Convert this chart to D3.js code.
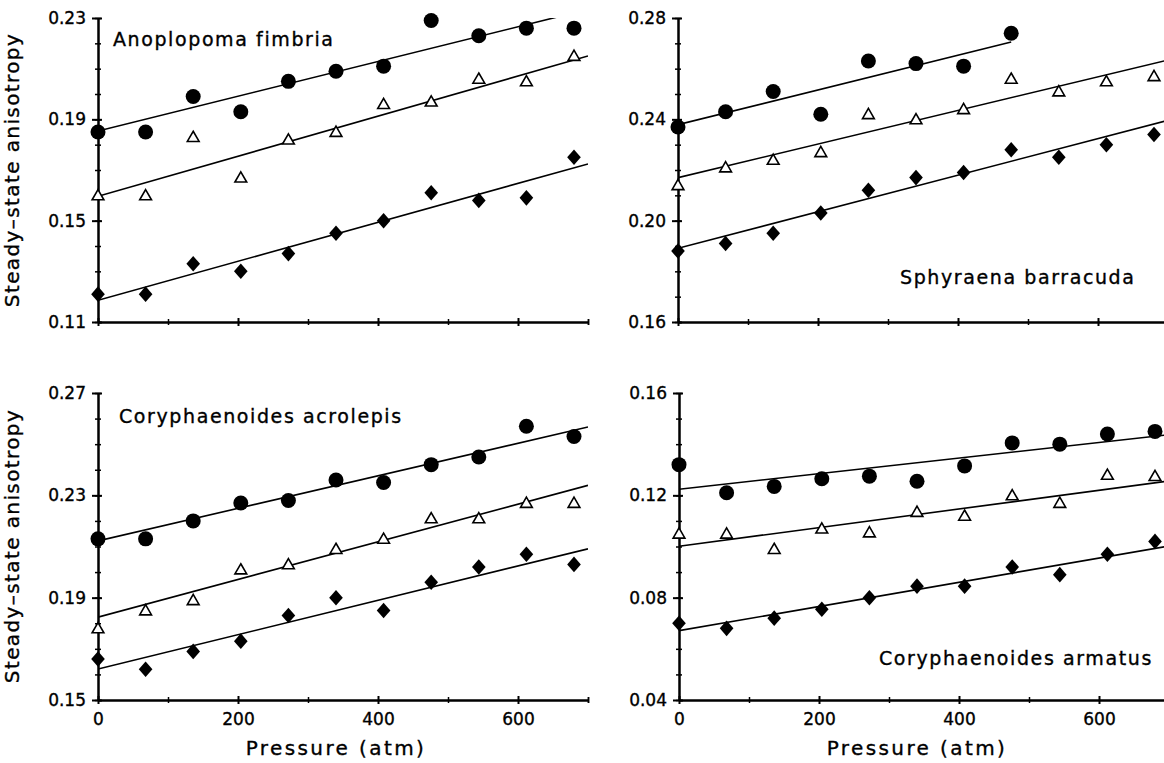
<!DOCTYPE html>
<html lang="en">

<head>
    <meta charset="UTF-8">
    <title>Steady-state anisotropy vs pressure</title>
    <style>
        body {
            margin: 0;
            background: #fff;
        }

        text {
            font-family: 'DejaVu Sans', sans-serif;
            fill: #000;
            stroke: #000;
            stroke-width: 0.35px;
        }

        .axis path,
        .axis line {
            stroke: #000;
            stroke-width: 2px;
        }

        .axis text {
            font-size: 17px;
        }

        .minor line {
            stroke-width: 1.5px;
        }

        .fit {
            fill: none;
            stroke: #000;
            stroke-width: 1.6px;
        }

        .circle {
            fill: #000;
        }

        .triangle {
            fill: #fff;
            stroke: #000;
            stroke-width: 1.6px;
        }

        .diamond {
            fill: #000;
        }

        .species {
            font-size: 19px;
            letter-spacing: 1.6px;
        }

        .axis-title {
            font-size: 20px;
            letter-spacing: 1.4px;
            text-anchor: middle;
        }

        .x-title {
            letter-spacing: 2.4px;
        }
    </style>
</head>

<body>
    <script src="https://d3js.org/d3.v7.min.js"></script>
    <script>
        // pressures (atm) shared by every series
        const pressure = [0, 68, 136, 204, 272, 340, 408, 476, 544, 612, 680];
        const xTickValues = [0, 200, 400, 600];
        const xDomain = [0, 700];

        // Anoplopoma fimbria
        const anoplopomaTicks = [0.11, 0.15, 0.19, 0.23];
        const anoplopomaCircles = [0.185, 0.185, 0.199, 0.193, 0.205, 0.209, 0.211, 0.229, 0.223, 0.226, 0.226];
        const anoplopomaTriangles = [0.160, 0.160, 0.183, 0.167, 0.182, 0.185, 0.196, 0.197, 0.206, 0.205, 0.215];
        const anoplopomaDiamonds = [0.121, 0.121, 0.133, 0.130, 0.137, 0.145, 0.150, 0.161, 0.158, 0.159, 0.175];
        const anoplopomaFits = [
            [[0, 0.1854], [700, 0.2334]],
            [[0, 0.1596], [700, 0.2150]],
            [[0, 0.1186], [700, 0.1724]]
        ];

        // Sphyraena barracuda
        const sphyraenaTicks = [0.16, 0.20, 0.24, 0.28];
        const sphyraenaCircles = [0.237, 0.243, 0.251, 0.242, 0.263, 0.262, 0.261, 0.274];
        const sphyraenaTriangles = [0.214, 0.221, 0.224, 0.227, 0.242, 0.240, 0.244, 0.256, 0.251, 0.255, 0.257];
        const sphyraenaDiamonds = [0.188, 0.191, 0.195, 0.203, 0.212, 0.217, 0.219, 0.228, 0.225, 0.230, 0.234];
        const sphyraenaFits = [
            [[0, 0.2379], [476, 0.2705]],
            [[0, 0.2170], [700, 0.2634]],
            [[0, 0.1891], [700, 0.2396]]
        ];

        // Coryphaenoides acrolepis
        const acrolepisTicks = [0.15, 0.19, 0.23, 0.27];
        const acrolepisCircles = [0.213, 0.213, 0.220, 0.227, 0.228, 0.236, 0.235, 0.242, 0.245, 0.257, 0.253];
        const acrolepisTriangles = [0.178, 0.185, 0.189, 0.201, 0.203, 0.209, 0.213, 0.221, 0.221, 0.227, 0.227];
        const acrolepisDiamonds = [0.166, 0.162, 0.169, 0.173, 0.183, 0.190, 0.185, 0.196, 0.202, 0.207, 0.203];
        const acrolepisFits = [
            [[0, 0.2122], [700, 0.2567]],
            [[0, 0.1824], [700, 0.2339]],
            [[0, 0.1621], [700, 0.2091]]
        ];

        // Coryphaenoides armatus
        const armatusTicks = [0.04, 0.08, 0.12, 0.16];
        const armatusCircles = [0.132, 0.121, 0.1235, 0.1265, 0.1275, 0.1255, 0.1315, 0.1405, 0.140, 0.144, 0.145];
        const armatusTriangles = [0.105, 0.105, 0.099, 0.107, 0.1055, 0.1135, 0.112, 0.120, 0.117, 0.128, 0.1275];
        const armatusDiamonds = [0.070, 0.068, 0.072, 0.0755, 0.080, 0.0845, 0.0845, 0.092, 0.089, 0.097, 0.102];
        const armatusFits = [
            [[0, 0.1224], [700, 0.1437]],
            [[0, 0.1001], [700, 0.1256]],
            [[0, 0.0671], [700, 0.1002]]
        ];

        const width = 1164;
        const height = 763;
        const plotWidth = 490;

        const panels = [
            { name: 'Anoplopoma fimbria', left: 98, top: 18, bottom: 322, ticks: anoplopomaTicks,
              circles: anoplopomaCircles, triangles: anoplopomaTriangles, diamonds: anoplopomaDiamonds,
              fits: anoplopomaFits, xLabels: false, labelX: 15, labelY: 28 },
            { name: 'Sphyraena barracuda', left: 678, top: 18, bottom: 322, ticks: sphyraenaTicks,
              circles: sphyraenaCircles, triangles: sphyraenaTriangles, diamonds: sphyraenaDiamonds,
              fits: sphyraenaFits, xLabels: false, labelX: 222, labelY: 266 },
            { name: 'Coryphaenoides acrolepis', left: 98, top: 393, bottom: 700, ticks: acrolepisTicks,
              circles: acrolepisCircles, triangles: acrolepisTriangles, diamonds: acrolepisDiamonds,
              fits: acrolepisFits, xLabels: true, labelX: 21, labelY: 30 },
            { name: 'Coryphaenoides armatus', left: 679, top: 393, bottom: 700, ticks: armatusTicks,
              circles: armatusCircles, triangles: armatusTriangles, diamonds: armatusDiamonds,
              fits: armatusFits, xLabels: true, labelX: 200, labelY: 272 }
        ];

        const svg = d3.select('body')
            .append('svg')
            .attr('width', width)
            .attr('height', height);

        // y titles, one per row
        [170, 546].forEach(cy => {
            svg.append('text')
                .attr('class', 'axis-title')
                .attr('transform', `translate(19, ${cy}) rotate(-90)`)
                .text('Steady–state anisotropy');
        });

        panels.forEach((p, i) => {
            const h = p.bottom - p.top;
            const xScale = d3.scaleLinear().domain(xDomain).range([0, plotWidth]);
            const yScale = d3.scaleLinear().domain(d3.extent(p.ticks)).range([h, 0]);

            const g = svg.append('g')
                .attr('transform', `translate(${p.left}, ${p.top})`);

            g.append('clipPath')
                .attr('id', `clip${i}`)
                .append('rect')
                .attr('width', plotWidth)
                .attr('height', h);

            // minor y ticks every 0.01
            const [y0, y1] = d3.extent(p.ticks);
            const yMinor = d3.range(Math.round((y1 - y0) / 0.01) + 1).map(k => y0 + k * 0.01);
            g.append('g')
                .attr('class', 'axis minor')
                .call(d3.axisLeft(yScale).tickValues(yMinor).tickSize(3).tickSizeOuter(0).tickFormat(''))
                .call(s => s.selectAll('.tick line').attr('x1', 3));

            g.append('g')
                .attr('class', 'axis')
                .call(d3.axisLeft(yScale)
                    .tickValues(p.ticks)
                    .tickSize(6)
                    .tickSizeOuter(0)
                    .tickPadding(6)
                    .tickFormat(d3.format('.2f')))
                .call(s => s.selectAll('.tick line').attr('x1', 4))
                .call(s => s.selectAll('text').attr('font-size', null).attr('font-family', null));

            // x axis, ticks every 100 crossing the line
            const xMinor = d3.range(1, 8, 2).map(k => k * 100).concat([700]);
            g.append('g')
                .attr('class', 'axis minor')
                .attr('transform', `translate(0, ${h})`)
                .call(d3.axisBottom(xScale).tickValues(xMinor).tickSize(3).tickSizeOuter(0).tickFormat(''))
                .call(s => s.selectAll('.tick line').attr('y1', -3));

            g.append('g')
                .attr('class', 'axis')
                .attr('transform', `translate(0, ${h})`)
                .call(d3.axisBottom(xScale)
                    .tickValues(xTickValues)
                    .tickSize(4)
                    .tickSizeOuter(0)
                    .tickPadding(9)
                    .tickFormat(p.xLabels ? d3.format('d') : ''))
                .call(s => s.selectAll('.tick line').attr('y1', -4))
                .call(s => s.selectAll('text').attr('font-size', null).attr('font-family', null));

            if (p.xLabels) {
                g.append('text')
                    .attr('class', 'axis-title x-title')
                    .attr('x', xScale(340))
                    .attr('y', h + 55)
                    .text('Pressure (atm)');
            }

            g.append('text')
                .attr('class', 'species')
                .attr('x', p.labelX)
                .attr('y', p.labelY)
                .text(p.name);

            // fitted lines
            g.selectAll('.fit')
                .data(p.fits)
                .enter().append('path')
                .attr('class', 'fit')
                .attr('clip-path', `url(#clip${i})`)
                .attr('d', d3.line()
                    .x(d => xScale(d[0]))
                    .y(d => yScale(d[1])));

            g.selectAll('.triangle')
                .data(p.triangles)
                .enter().append('path')
                .attr('class', 'triangle')
                .attr('d', d3.symbol(d3.symbolTriangle, 60))
                .attr('transform', (d, k) => `translate(${xScale(pressure[k])}, ${yScale(d) + 1})`);

            g.selectAll('.circle')
                .data(p.circles)
                .enter().append('circle')
                .attr('class', 'circle')
                .attr('r', 7.5)
                .attr('cx', (d, k) => xScale(pressure[k]))
                .attr('cy', d => yScale(d));

            g.selectAll('.diamond')
                .data(p.diamonds)
                .enter().append('path')
                .attr('class', 'diamond')
                .attr('d', d3.symbol(d3.symbolSquare, 110))
                .attr('transform', (d, k) => `translate(${xScale(pressure[k])}, ${yScale(d)}) scale(0.92, 1.05) rotate(45)`);
        });
    </script>
</body>

</html>
